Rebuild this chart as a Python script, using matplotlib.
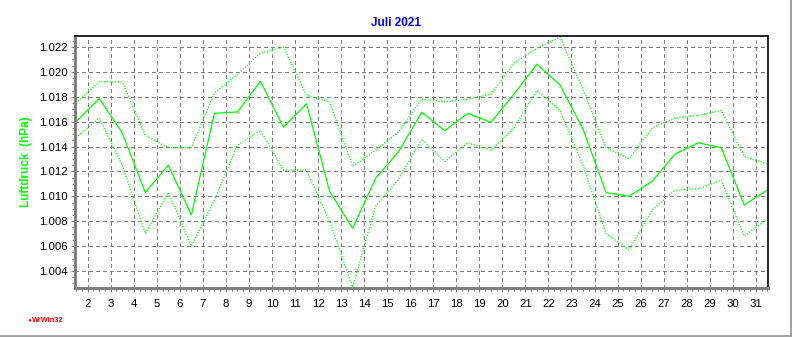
import numpy as np
import matplotlib.pyplot as plt
from matplotlib.lines import Line2D
from matplotlib.ticker import MultipleLocator, FormatStrFormatter

plt.rcParams['font.family'] = ['Liberation Sans', 'DejaVu Sans']

# daily values, July 2021 (hPa / 1000)
days = list(range(1, 32))
mean_p = [1.0160, 1.01785, 1.0151, 1.0103, 1.0125, 1.0085, 1.01667, 1.01678,
          1.01924, 1.01555, 1.01744, 1.0104, 1.00743, 1.01145, 1.0136, 1.01675,
          1.01527, 1.01667, 1.01595, 1.0182, 1.02061, 1.01895, 1.0154, 1.0103,
          1.0100, 1.0112, 1.0134, 1.0143, 1.0139, 1.0093, 1.0105]
max_p = [1.0175, 1.0192, 1.0192, 1.0149, 1.0139, 1.0139, 1.0183, 1.0198,
         1.0215, 1.0220, 1.0181, 1.0176, 1.0124, 1.0137, 1.0152, 1.0178,
         1.0176, 1.0178, 1.0182, 1.0207, 1.0219, 1.0228, 1.0186, 1.0139,
         1.0130, 1.0155, 1.0163, 1.0165, 1.0169, 1.0132, 1.0126]
min_p = [1.0147, 1.0163, 1.0125, 1.0070, 1.0103, 1.0060, 1.0097, 1.0141,
         1.0153, 1.0121, 1.0121, 1.0080, 1.0027, 1.0092, 1.0114, 1.0146,
         1.0128, 1.0143, 1.0137, 1.0155, 1.0185, 1.0169, 1.0125, 1.0070,
         1.0057, 1.0089, 1.0105, 1.0106, 1.0113, 1.0068, 1.0082]
day_ticks = list(range(2, 32))

GREEN = '#00ff00'
GRID = '#808080'

fig = plt.figure(figsize=(7.92, 3.37), dpi=100)
ax = fig.add_axes([75 / 792, 49 / 337, 693 / 792, 252 / 337])

# values are daily, plotted at noon
x = np.array(days) + 0.5
ax.plot(x, max_p, color=GREEN, lw=1.0, linestyle=(0, (0.8, 1.2)))
ax.plot(x, min_p, color=GREEN, lw=1.0, linestyle=(0, (0.8, 1.2)))
ax.plot(x, mean_p, color=GREEN, lw=0.9)

ax.set_xlim(1.45, 31.53)
ax.set_ylim(1.00263, 1.02288)

ax.set_xticks(day_ticks)
ax.set_xticklabels([str(d) for d in day_ticks])
ax.xaxis.set_minor_locator(MultipleLocator(0.25))
ax.yaxis.set_major_locator(MultipleLocator(0.002))
ax.yaxis.set_major_formatter(FormatStrFormatter('%.3f'))
ax.yaxis.set_minor_locator(MultipleLocator(0.0005))

ax.grid(True, which='major', color=GRID, linestyle=(0, (4, 3)), lw=0.72,
        antialiased=False)
ax.set_axisbelow(True)

ax.tick_params(axis='both', which='major', labelsize=8.2, direction='out',
               length=3, width=0.8, color=GRID)
ax.tick_params(axis='both', which='minor', direction='out', length=2,
               width=0.8, color=GRID)
ax.tick_params(axis='x', which='major', pad=5)
ax.tick_params(axis='y', which='major', pad=2.5)

for side in ('left', 'bottom'):
    ax.spines[side].set_color(GRID)
    ax.spines[side].set_linewidth(2.2)
for side in ('top', 'right'):
    ax.spines[side].set_color('black')
    ax.spines[side].set_linewidth(1.2)

ax.set_ylabel('Luftdruck  (hPa)', color=GREEN, fontsize=8.5, fontweight='bold',
              labelpad=6)
ax.yaxis.set_label_coords(-0.062, 0.5)

fig.text(0.5, 1 - 22.5 / 337, 'Juli 2021', color='#0000ff', fontsize=8.5,
         fontweight='bold', ha='center', va='center')

# program tag bottom left
fig.text(29 / 792, 1 - 320 / 337, '\u25cf', color='red', fontsize=4.5,
         ha='center', va='center')
fig.text(32 / 792, 1 - 320 / 337, 'WrWin32', color='red', fontsize=5.3,
         fontweight='bold', ha='left', va='center')

# window frame at right and bottom
fig.add_artist(Line2D([790.5 / 792, 790.5 / 792], [0, 1], color='#a0a0a0', lw=1.4))
fig.add_artist(Line2D([0, 1], [0.8 / 337, 0.8 / 337], color='#a0a0a0', lw=1.4))

fig.savefig('out.png', dpi=100, facecolor='white')
